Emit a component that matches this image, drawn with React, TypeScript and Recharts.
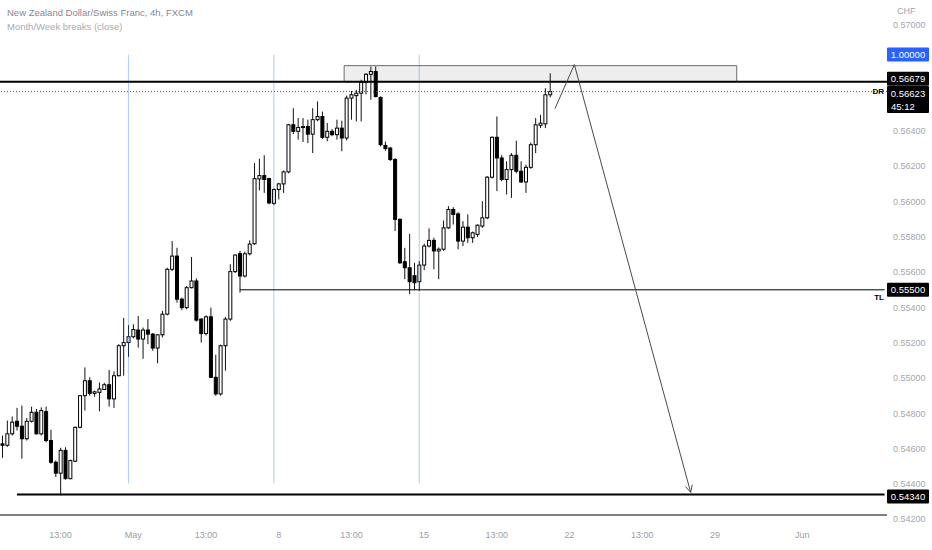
import React from "react"
import {
  ComposedChart,
  Bar,
  XAxis,
  YAxis,
  ReferenceLine,
  ReferenceArea,
} from "recharts"

// 4h candles, NZD/CHF (FXCM)
const opens = [
  0.54627, 0.54619, 0.54684, 0.54755, 0.54727, 0.54656, 0.54755, 0.54806, 0.54684, 0.5481,
  0.54646, 0.54523, 0.54461, 0.5459, 0.5443, 0.54529, 0.54721, 0.549, 0.54985, 0.54913,
  0.54919, 0.54935, 0.54962, 0.54882, 0.55013, 0.55183, 0.55201, 0.55234, 0.55272, 0.55221,
  0.55272, 0.55249, 0.5517, 0.55245, 0.55362, 0.55616, 0.55691, 0.55447, 0.55399, 0.55512,
  0.5555, 0.55334, 0.55252, 0.55347, 0.55004, 0.5491, 0.55183, 0.55334, 0.55603, 0.55705,
  0.55578, 0.55704, 0.55761, 0.56128, 0.56147, 0.5613, 0.5599, 0.56068, 0.561, 0.56168,
  0.56435, 0.56398, 0.5642, 0.56425, 0.56382, 0.56464, 0.56482, 0.56364, 0.56398, 0.56379,
  0.56416, 0.5636, 0.56586, 0.566, 0.56614, 0.56676, 0.56721, 0.56737, 0.5659, 0.56318,
  0.56303, 0.56238, 0.55899, 0.55659, 0.55625, 0.5558, 0.55546, 0.5564, 0.55748, 0.5578,
  0.5572, 0.5573, 0.55851, 0.55955, 0.5593, 0.55776, 0.55855, 0.55795, 0.55814, 0.55861,
  0.55908, 0.56138, 0.56364, 0.56247, 0.56125, 0.56181, 0.56262, 0.56172, 0.56111, 0.56194,
  0.56322, 0.56432, 0.5644, 0.56605,
]
const highs = [
  0.54674, 0.54759, 0.54782, 0.54831, 0.54844, 0.54774, 0.54838, 0.54825, 0.54834, 0.54838,
  0.54707, 0.54533, 0.54605, 0.54608, 0.54537, 0.54725, 0.54904, 0.5506, 0.55004, 0.54929,
  0.54975, 0.54973, 0.55046, 0.55038, 0.55192, 0.55341, 0.553, 0.55305, 0.55352, 0.55286,
  0.55334, 0.55255, 0.55249, 0.55381, 0.55625, 0.55776, 0.55738, 0.55456, 0.55522, 0.55686,
  0.55564, 0.55339, 0.55355, 0.55399, 0.55132, 0.5519, 0.55347, 0.55645, 0.557, 0.5572,
  0.55716, 0.5578, 0.56218, 0.56243, 0.56262, 0.56135, 0.56075, 0.56106, 0.56176, 0.5644,
  0.56529, 0.56473, 0.56473, 0.56464, 0.56529, 0.56567, 0.5651, 0.56445, 0.5641, 0.56464,
  0.56458, 0.566, 0.56627, 0.56633, 0.5669, 0.56727, 0.56765, 0.56765, 0.56596, 0.5634,
  0.5631, 0.56247, 0.55905, 0.55738, 0.55817, 0.55653, 0.55663, 0.55761, 0.55848, 0.55795,
  0.5574, 0.55893, 0.55974, 0.55968, 0.5594, 0.55889, 0.55927, 0.5583, 0.5587, 0.56002,
  0.56144, 0.56369, 0.56482, 0.56264, 0.56228, 0.56275, 0.56345, 0.56228, 0.56209, 0.56335,
  0.56473, 0.56492, 0.56642, 0.56727,
]
const lows = [
  0.54548, 0.5461, 0.54674, 0.54703, 0.54543, 0.54646, 0.54748, 0.5468, 0.54674, 0.54636,
  0.54514, 0.54439, 0.54335, 0.54424, 0.54426, 0.54523, 0.54715, 0.54816, 0.549, 0.54894,
  0.54812, 0.54932, 0.54838, 0.54831, 0.5501, 0.55013, 0.5512, 0.55225, 0.55172, 0.55109,
  0.55192, 0.55155, 0.55083, 0.5523, 0.55355, 0.55607, 0.55427, 0.55385, 0.5539, 0.55508,
  0.5532, 0.55201, 0.55241, 0.55, 0.549, 0.549, 0.55042, 0.55324, 0.55595, 0.55484,
  0.5557, 0.55695, 0.55755, 0.56063, 0.56049, 0.55985, 0.5598, 0.56012, 0.56049, 0.5616,
  0.56382, 0.56351, 0.56337, 0.56331, 0.56275, 0.56455, 0.56355, 0.56341, 0.5637, 0.56351,
  0.56285, 0.56346, 0.56464, 0.56454, 0.56454, 0.56607, 0.56577, 0.5659, 0.56313, 0.56288,
  0.5623, 0.55833, 0.55646, 0.5556, 0.55475, 0.55498, 0.55494, 0.55611, 0.5574, 0.55616,
  0.5556, 0.5572, 0.55845, 0.5587, 0.55729, 0.55748, 0.55766, 0.55766, 0.558, 0.55851,
  0.559, 0.5613, 0.56059, 0.56115, 0.5604, 0.56021, 0.5616, 0.56106, 0.56049, 0.56185,
  0.56275, 0.56416, 0.56416, 0.5659,
]
const closes = [
  0.54619, 0.54684, 0.5475, 0.54727, 0.54656, 0.54755, 0.54806, 0.54684, 0.54816, 0.54646,
  0.54523, 0.54461, 0.5459, 0.5443, 0.54533, 0.54721, 0.549, 0.54985, 0.54913, 0.54922,
  0.54938, 0.54962, 0.54882, 0.55013, 0.55183, 0.55201, 0.55234, 0.55275, 0.55221, 0.55272,
  0.55249, 0.5517, 0.55245, 0.55362, 0.55616, 0.55691, 0.55447, 0.55399, 0.55512, 0.5555,
  0.55328, 0.55252, 0.55347, 0.55004, 0.5491, 0.55183, 0.55334, 0.55603, 0.55697, 0.55578,
  0.55704, 0.55759, 0.5613, 0.56147, 0.56125, 0.55992, 0.56068, 0.561, 0.56168, 0.56435,
  0.56398, 0.5642, 0.56425, 0.56382, 0.56464, 0.56482, 0.56364, 0.56398, 0.56379, 0.56416,
  0.5636, 0.56586, 0.56605, 0.56614, 0.56676, 0.56721, 0.56737, 0.56595, 0.56322, 0.563,
  0.56238, 0.55899, 0.55653, 0.55625, 0.55546, 0.5554, 0.5564, 0.55748, 0.5578, 0.5572,
  0.5573, 0.55851, 0.55955, 0.55927, 0.55776, 0.55855, 0.55795, 0.55823, 0.55866, 0.55908,
  0.56138, 0.56364, 0.56247, 0.56125, 0.56181, 0.56262, 0.56172, 0.56111, 0.56194, 0.56322,
  0.56435, 0.56444, 0.56605, 0.56623,
]

// x axis: slot index -> label
const tickSlots = [12, 27, 42, 57, 72, 87, 102, 117, 132, 147, 165]
const tickLabels = ["13:00", "May", "13:00", "8", "13:00", "15", "13:00", "22", "13:00", "29", "Jun"]
const priceTicks = [0.542, 0.544, 0.546, 0.548, 0.55, 0.552, 0.554, 0.556, 0.558, 0.56, 0.562, 0.564, 0.57]

// drawings
const weekBreaks = [26, 56, 86]
const breakTop = 0.56833
const breakBottom = 0.54403
const zoneX = [71, 151]
const zoneY = [0.56679, 0.5677]
const highLine = 0.56679
const lastPrice = 0.56623
const tlLine = 0.555
const tlStart = 49
const lowLine = 0.5434
const lowStart = 3
const arrowX = [114, 118, 142]
const arrowY = [0.56527, 0.56776, 0.54352]

const W = 932
const H = 550
const AXIS_W = 45
const XAXIS_H = 35
const SLOTS = 183
const PLOT_RIGHT = W - AXIS_W

const rows = Array.from({ length: SLOTS }, (_, i) =>
  i < opens.length
    ? { i, o: opens[i], h: highs[i], l: lows[i], c: closes[i], range: [lows[i], highs[i]] }
    : { i, range: null }
)

function Candle(props: any) {
  const { x, y, width, height, payload } = props
  if (!payload || payload.o == null || !isFinite(y) || !isFinite(height)) return null
  const top = Math.min(y, y + height)
  const span = Math.abs(height)
  const k = span / (payload.h - payload.l)
  const py = (p: number) => top + (payload.h - p) * k
  const cx = x + width / 2
  const up = payload.c >= payload.o
  const bTop = py(Math.max(payload.o, payload.c))
  const bH = Math.max(1, py(Math.min(payload.o, payload.c)) - bTop)
  return (
    <g>
      <line x1={cx} x2={cx} y1={top} y2={top + span} stroke="#111" strokeWidth={1} />
      <rect
        x={cx - 1.5}
        y={bTop}
        width={3}
        height={bH}
        fill={up ? "#fff" : "#000"}
        stroke="#000"
        strokeWidth={1}
      />
    </g>
  )
}

// price label box on the right scale; dy nudges it off the line like TradingView does
function PriceTag(props: any) {
  const { viewBox, text, sub, note, dy = 0, bg = "#000" } = props
  if (!viewBox) return null
  const cy = viewBox.y + dy
  const h = sub ? 27 : 14
  return (
    <g>
      {note && (
        <text
          x={PLOT_RIGHT - 3}
          y={viewBox.y + note.dy}
          textAnchor="end"
          fontSize={8}
          fontWeight="bold"
          fill="#000"
        >
          {note.text}
        </text>
      )}
      <rect x={PLOT_RIGHT} y={cy - 7} width={42} height={h} fill={bg} rx={1} />
      <text x={PLOT_RIGHT + 21} y={cy + 3.5} textAnchor="middle" fontSize={9.5} fill="#fff">
        {text}
      </text>
      {sub && (
        <text x={PLOT_RIGHT + 4} y={cy + 16.5} fontSize={9.5} fill="#fff">
          {sub}
        </text>
      )}
    </g>
  )
}

function ArrowLine(props: any) {
  const { x1, y1, x2, y2, head } = props
  if (![x1, y1, x2, y2].every((v) => isFinite(v))) return null
  const len = Math.hypot(x2 - x1, y2 - y1) || 1
  const dx = (x2 - x1) / len
  const dy = (y2 - y1) / len
  const bx = x2 - dx * 7
  const by = y2 - dy * 7
  return (
    <g>
      <line x1={x1} y1={y1} x2={x2} y2={y2} stroke="#4a4a4a" strokeWidth={1} />
      {head && (
        <path
          d={`M${bx - dy * 3.5},${by + dx * 3.5} L${x2},${y2} L${bx + dy * 3.5},${by - dx * 3.5}`}
          fill="none"
          stroke="#4a4a4a"
          strokeWidth={1}
        />
      )}
    </g>
  )
}

export default function App() {
  return (
    <div
      style={{
        position: "absolute",
        left: 0,
        top: 0,
        width: W,
        height: H,
        background: "#fff",
        fontFamily: "'Liberation Sans', Arial, sans-serif",
      }}
    >
      <ComposedChart
        width={W}
        height={H}
        data={rows}
        margin={{ top: 0, right: 0, left: 0, bottom: 0 }}
      >
        <XAxis
          dataKey="i"
          type="category"
          ticks={tickSlots}
          interval={0}
          height={XAXIS_H}
          tickLine={false}
          tickSize={0}
          tickMargin={17}
          axisLine={{ stroke: "#555", strokeWidth: 1.5 }}
          tick={{ fontSize: 9, fill: "#9a9da6" }}
          tickFormatter={(v: number) => tickLabels[tickSlots.indexOf(v)] ?? ""}
        />
        <YAxis
          orientation="right"
          width={AXIS_W}
          domain={[0.54224, 0.57142]}
          allowDataOverflow
          ticks={priceTicks}
          interval={0}
          axisLine={false}
          tickLine={false}
          tickSize={0}
          tickMargin={6}
          tick={{ fontSize: 9, fill: "#a3a6af" }}
          tickFormatter={(v: number) => v.toFixed(5)}
        />
        <ReferenceArea
          x1={zoneX[0]}
          x2={zoneX[1]}
          y1={zoneY[0]}
          y2={zoneY[1]}
          fill="#d4d4d4"
          fillOpacity={0.4}
          stroke="#6b6b6b"
          strokeWidth={1}
        />
        {weekBreaks.map((b) => (
          <ReferenceLine
            key={b}
            segment={[
              { x: b, y: breakTop },
              { x: b, y: breakBottom },
            ]}
            stroke="#2962ff"
            strokeOpacity={0.35}
            strokeWidth={1}
          />
        ))}
        <Bar dataKey="range" barSize={3} shape={<Candle />} isAnimationActive={false} />
        <ReferenceLine
          y={highLine}
          stroke="#000"
          strokeWidth={2}
          label={<PriceTag text={highLine.toFixed(5)} dy={-3} />}
        />
        <ReferenceLine
          y={lastPrice}
          stroke="#555"
          strokeWidth={1}
          strokeDasharray="1 2"
          label={
            <PriceTag
              text={lastPrice.toFixed(5)}
              sub="45:12"
              dy={1.5}
              note={{ text: "DR", dy: 2 }}
            />
          }
        />
        <ReferenceLine
          segment={[
            { x: tlStart, y: tlLine },
            { x: SLOTS - 1, y: tlLine },
          ]}
          stroke="#000"
          strokeWidth={1}
          label={<PriceTag text={tlLine.toFixed(5)} note={{ text: "TL", dy: 10 }} />}
        />
        <ReferenceLine
          segment={[
            { x: lowStart, y: lowLine },
            { x: SLOTS - 1, y: lowLine },
          ]}
          stroke="#000"
          strokeWidth={2}
          label={<PriceTag text={lowLine.toFixed(5)} dy={2} />}
        />
        <ReferenceLine
          y={breakTop}
          stroke="none"
          label={<PriceTag text="1.00000" bg="#2962ff" />}
        />
        <ReferenceLine
          segment={[
            { x: arrowX[0], y: arrowY[0] },
            { x: arrowX[1], y: arrowY[1] },
          ]}
          shape={(p: any) => <ArrowLine {...p} />}
        />
        <ReferenceLine
          segment={[
            { x: arrowX[1], y: arrowY[1] },
            { x: arrowX[2], y: arrowY[2] },
          ]}
          shape={(p: any) => <ArrowLine {...p} head />}
        />
      </ComposedChart>
      <div style={{ position: "absolute", left: 7, top: 7, fontSize: 9.5, color: "#858892" }}>
        New Zealand Dollar/Swiss Franc, 4h, FXCM
      </div>
      <div style={{ position: "absolute", left: 7, top: 21, fontSize: 9.5, color: "#a8abb3" }}>
        Month/Week breaks (close)
      </div>
      <div style={{ position: "absolute", left: 897, top: 6, fontSize: 9, color: "#a3a6af" }}>
        CHF
      </div>
    </div>
  )
}
